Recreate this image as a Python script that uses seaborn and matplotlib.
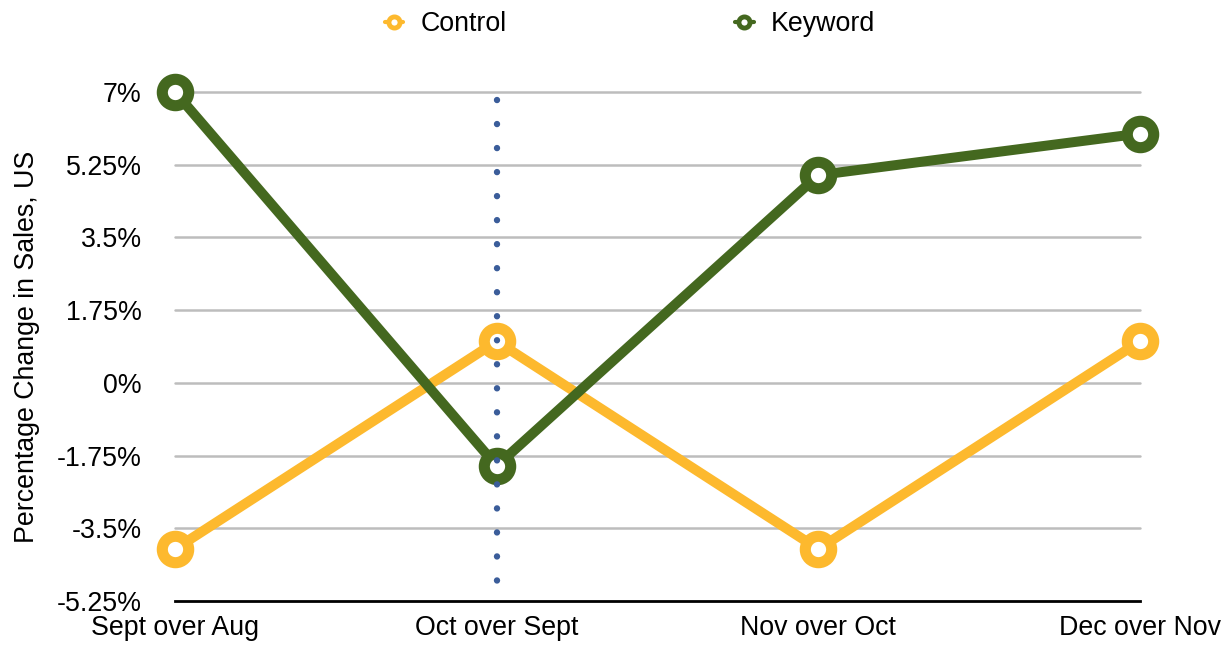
import pandas as pd
import matplotlib.pyplot as plt
import seaborn as sns
from matplotlib.lines import Line2D

# chart values
periods = ["Sept over Aug", "Oct over Sept", "Nov over Oct", "Dec over Nov"]
control = [-4.0, 1.0, -4.0, 1.0]
keyword = [7.0, -2.0, 5.0, 6.0]
y_ticks = [-5.25, -3.5, -1.75, 0, 1.75, 3.5, 5.25, 7]
y_tick_labels = ["-5.25%", "-3.5%", "-1.75%", "0%", "1.75%", "3.5%", "5.25%", "7%"]
marker_period = "Oct over Sept"
marker_span = [6.8, -4.8]

colors = {"Control": "#FDB92E", "Keyword": "#44681F"}

df = pd.DataFrame({
    "period": periods * 2,
    "value": control + keyword,
    "series": ["Control"] * 4 + ["Keyword"] * 4,
})

sns.set_style("white")
plt.rcParams["font.family"] = ["Liberation Sans", "DejaVu Sans"]
plt.rcParams["text.color"] = "black"
plt.rcParams["xtick.color"] = "black"
plt.rcParams["ytick.color"] = "black"
plt.rcParams["axes.labelcolor"] = "black"
fs = 19.3

fig = plt.figure(figsize=(12.28, 6.45), dpi=100)
ax = fig.add_axes([175 / 1228, 1 - 601 / 645, (1140 - 175) / 1228, (601 - 92) / 645])

# gridlines first, under everything
for t in y_ticks[1:]:
    ax.axhline(t, color="#BDBDBD", lw=1.8, zorder=0)

sns.lineplot(data=df, x="period", y="value", hue="series", palette=colors,
             marker="o", markersize=19, markeredgewidth=8, markerfacecolor="white",
             lw=7.2, legend=False, ax=ax, zorder=3, clip_on=False)
for ln in ax.lines:
    ln.set_clip_on(False)
    if ln.get_color() in colors.values():
        ln.set_markeredgecolor(ln.get_color())

# dotted marker line at Oct over Sept
xi = periods.index(marker_period)
ax.plot([xi, xi], marker_span, color="#3B5D9A", lw=4.6, dashes=[0.01, 3.75],
        dash_capstyle="round", zorder=4)

ax.set_xlim(0, len(periods) - 1)
ax.set_ylim(y_ticks[0], y_ticks[-1])
ax.set_yticks(y_ticks)
ax.set_yticklabels(y_tick_labels)
ax.set_xticks(range(len(periods)))
ax.set_xticklabels(periods)
ax.tick_params(axis="y", length=0, pad=24, labelsize=fs)
ax.tick_params(axis="x", length=0, pad=10, labelsize=fs)
ax.set_xlabel("")
ax.set_ylabel("Percentage Change in Sales, US", fontsize=fs, labelpad=12)

for s in ["top", "right", "left"]:
    ax.spines[s].set_visible(False)
ax.spines["bottom"].set_color("black")
ax.spines["bottom"].set_linewidth(2)
ax.spines["bottom"].set_zorder(2)

handles = [Line2D([], [], color=colors[k], lw=3, marker="o", markersize=8,
                  markeredgewidth=3.5, markerfacecolor="white", markeredgecolor=colors[k])
           for k in ["Control", "Keyword"]]
fig.legend(handles, ["Control", "Keyword"], loc="upper center",
           bbox_to_anchor=(0.513, 1.02), ncol=2, frameon=False, fontsize=fs,
           handlelength=0.7, columnspacing=8.5, handletextpad=0.65)

fig.savefig("out.png", dpi=100)
